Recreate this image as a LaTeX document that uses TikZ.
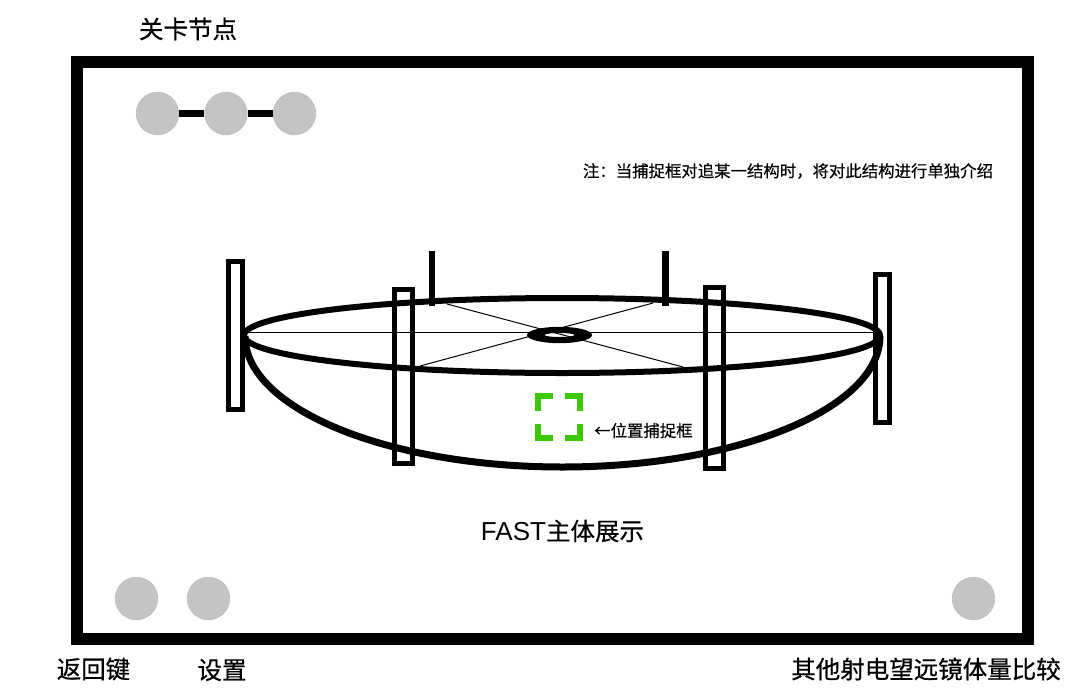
\documentclass[tikz,border=0pt]{standalone}
\usepackage{fontspec}
\setmainfont{Noto Sans CJK SC}
\newfontfamily\cjkmed[FakeBold=0.35]{Noto Sans CJK SC}
\newfontfamily\cjkbig[FakeBold=0.6]{Noto Sans CJK SC}
\newfontfamily\latinfont{Liberation Sans}
\tikzset{
  x=1pt,y=-1pt,
  level/.style={circle,fill=nodegray,draw=nodeedge,line width=0.6pt,minimum size=42.5pt,inner sep=0pt},
  big/.style={inner sep=0pt,font=\cjkbig\fontsize{24.5}{24.5}\selectfont},
  small/.style={inner sep=0pt,font=\cjkmed\fontsize{16.4}{16.4}\selectfont},
  dish/.style={line width=6pt},
  panel/.style={line width=5.5pt,draw=black},
  thin/.style={line width=1pt},
  bracket/.style={line width=6pt,draw=capgreen,line cap=butt,line join=miter},
}
\definecolor{nodegray}{HTML}{C4C4C4}
\definecolor{nodeedge}{HTML}{BBBBBB}
\definecolor{capgreen}{HTML}{3CC800}
\begin{document}
\begin{tikzpicture}
\useasboundingbox (0,0) rectangle (1080,694);
% frame
\draw[line width=12pt] (77,62) rectangle (1028,639);
% level nodes
\node[level] (a) at (157.5,113.5) {};
\node[level] (b) at (226,113.5) {};
\node[level] (c) at (294.5,113.5) {};
\draw[line width=7pt] (a) -- (b);
\draw[line width=7pt] (b) -- (c);
\node[level] at (136.5,598.5) (back) {};
\node[level] at (208.5,598.5) (settings) {};
\node[level] at (973.5,598.5) (compare) {};
% labels
\node[big] (t1) at (188,29) {关卡节点};
\node[big] (t2) at (93.5,669) {返回键};
\node[big] (t3) at (222,670) {设置};
\node[big] (t4) at (926,669) {其他射电望远镜体量比较};
\node[big,font=\cjkmed\fontsize{24.5}{24.5}\selectfont] (t5) at (562.5,531) {{\latinfont\fontsize{26}{26}\selectfont FAST}主体展示};
\node[small] (note) at (788,171) {注：当捕捉框对追某一结构时，将对此结构进行单独介绍};
\node[small,anchor=west] (caplabel) at (594,430.5) {←位置捕捉框};
% panels
\draw[panel] (228.7,261.7) rectangle (242.3,409.3);
\draw[panel] (394.7,289.7) rectangle (412.3,463.3);
\draw[panel] (705.7,287.7) rectangle (723.3,468.3);
\draw[panel] (875.7,274.7) rectangle (889.3,422.3);
% thin lines
\coordinate (L) at (245,332.5);
\coordinate (R) at (880,332.5);
\draw[thin] (L) -- (R);
\draw[thin] (447,304) -- (683,367);
\draw[thin] (420,366) -- (653,303);
% dish rim and bowl
\draw[dish] (562,335.5) ellipse [x radius=318,y radius=37.5];
\draw[line width=7pt] (245,336) arc [start angle=180,end angle=0,x radius=317.5,y radius=131];
% feed posts
\draw[line width=6pt] (432,251) -- (432,306);
\draw[line width=7pt] (665.5,251) -- (665.5,306);
% center ring
\fill[even odd rule] (559.5,335) ellipse [x radius=32.5,y radius=8.2] (559.5,335) ellipse [x radius=15,y radius=2];
% capture brackets
\draw[bracket] (553,396) -- (538,396) -- (538,410.5);
\draw[bracket] (565,396) -- (580,396) -- (580,410.5);
\draw[bracket] (553,438) -- (538,438) -- (538,424);
\draw[bracket] (565,438) -- (580,438) -- (580,424);
\end{tikzpicture}
\end{document}
